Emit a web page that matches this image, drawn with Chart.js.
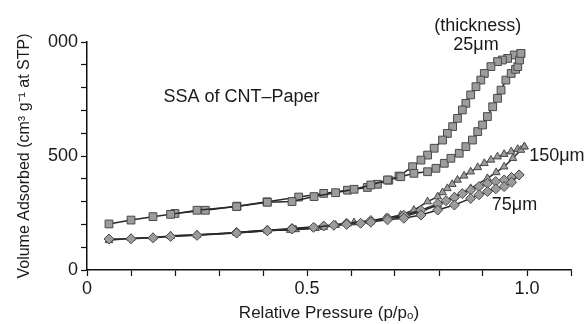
<!DOCTYPE html>
<html>
<head>
<meta charset="utf-8">
<script src="https://cdn.jsdelivr.net/npm/chart.js@4"></script>
<style>
  body { margin: 0; background: #fff; }
  #wrap { width: 588px; height: 324px; }
</style>
</head>
<body>
<div id="wrap"><canvas id="isotherm" width="588" height="324"></canvas></div>
<script>
// 25 um paper (squares)
const p25Ads = [0.05, 0.10, 0.15, 0.19, 0.25, 0.34, 0.41, 0.466, 0.516, 0.565, 0.607, 0.645, 0.683, 0.713, 0.743, 0.774, 0.793, 0.812, 0.827, 0.846, 0.861, 0.876, 0.888, 0.899, 0.91, 0.922, 0.933, 0.941, 0.952, 0.964, 0.974, 0.979, 0.983, 0.986];
const v25Ads = [202, 219, 234, 244, 262, 278, 297, 300, 322, 339, 354, 373, 395, 409, 424, 431, 446, 468, 490, 512, 541, 570, 607, 636, 673, 716, 753, 789, 833, 862, 880, 892, 921, 950];
const p25Des = [0.986, 0.971, 0.956, 0.944, 0.933, 0.918, 0.903, 0.895, 0.884, 0.872, 0.861, 0.853, 0.842, 0.831, 0.819, 0.808, 0.789, 0.774, 0.759, 0.74, 0.709, 0.686, 0.66, 0.637, 0.592, 0.538, 0.481, 0.409, 0.341, 0.269, 0.20];
const v25Des = [950, 943, 928, 921, 914, 892, 862, 833, 804, 768, 731, 702, 665, 629, 599, 570, 534, 504, 482, 453, 412, 394, 376, 362, 350, 336, 320, 299, 280, 262, 248];

// 150 um paper (triangles)
const p150Ads = [0.05, 0.10, 0.15, 0.19, 0.25, 0.34, 0.41, 0.462, 0.519, 0.565, 0.607, 0.645, 0.683, 0.72, 0.759, 0.797, 0.835, 0.872, 0.91, 0.93, 0.948, 0.968, 0.986, 0.994];
const v150Ads = [130, 139, 143, 149, 154, 164, 175, 175, 183, 197, 208, 212, 227, 234, 256, 285, 322, 358, 402, 428, 453, 490, 526, 541];
const p150Des = [0.994, 0.979, 0.964, 0.948, 0.933, 0.918, 0.903, 0.888, 0.872, 0.857, 0.842, 0.83, 0.819, 0.808, 0.797, 0.774, 0.743, 0.713, 0.679, 0.645, 0.592, 0.538, 0.474, 0.41, 0.34, 0.25, 0.19];
const v150Des = [541, 530, 519, 508, 497, 483, 468, 450, 431, 413, 395, 376, 358, 340, 322, 300, 263, 241, 227, 215, 203, 188, 178, 172, 163, 155, 150];

// 75 um paper (diamonds)
const p75Ads = [0.05, 0.10, 0.15, 0.19, 0.25, 0.34, 0.41, 0.466, 0.515, 0.561, 0.59, 0.622, 0.645, 0.683, 0.72, 0.759, 0.797, 0.835, 0.872, 0.891, 0.91, 0.929, 0.948, 0.965, 0.982];
const v75Ads = [136, 137, 141, 147, 152, 162, 172, 180, 187, 196, 200, 205, 210, 220, 227, 241, 263, 285, 314, 330, 344, 356, 366, 385, 417];
const p75Des = [0.982, 0.965, 0.948, 0.929, 0.91, 0.891, 0.872, 0.853, 0.835, 0.816, 0.797, 0.759, 0.72, 0.683, 0.645, 0.59, 0.538, 0.466, 0.41, 0.34];
const v75Des = [417, 406, 395, 388, 380, 366, 351, 335, 318, 304, 290, 262, 240, 228, 217, 205, 193, 182, 174, 165];

// annotations: [text, p, volume, align]
const notes = [
    ['SSA of CNT\u2013Paper', 0.351, 759, 'center'],
    ['(thickness)', 0.888, 1072, 'center'],
    ['25\u03bcm', 0.884, 987, 'center'],
    ['150\u03bcm', 1.005, 500, 'left'],
    ['75\u03bcm', 0.92, 285, 'left']
];

function toPoints(xs, ys) {
    return xs.map((x, i) => ({ x: x, y: ys[i] }));
}

function series(xs, ys, shape, radius) {
    return {
        data: toPoints(xs, ys),
        showLine: true,
        borderColor: '#2a2a2a',
        borderWidth: 1.5,
        pointStyle: shape,
        pointRadius: radius,
        pointBackgroundColor: '#9c9c9c',
        pointBorderColor: '#4a4a4a',
        pointBorderWidth: 1
    };
}

const notePlugin = {
    id: 'notes',
    afterDatasetsDraw(chart) {
        const ctx = chart.ctx;
        const xs = chart.scales.x;
        const ys = chart.scales.y;
        ctx.save();
        ctx.fillStyle = '#1a1a1a';
        ctx.font = '18px "Liberation Sans", Arial, sans-serif';
        ctx.textBaseline = 'middle';
        notes.forEach(n => {
            ctx.textAlign = n[3];
            ctx.fillText(n[0], xs.getPixelForValue(n[1]), ys.getPixelForValue(n[2]));
        });
        ctx.restore();
    }
};

const ctx = document.getElementById('isotherm').getContext('2d');
new Chart(ctx, {
    type: 'scatter',
    data: {
        datasets: [
            series(p75Ads, v75Ads, 'rectRot', 5),
            series(p75Des, v75Des, 'rectRot', 5),
            series(p150Ads, v150Ads, 'triangle', 4.5),
            series(p150Des, v150Des, 'triangle', 4.5),
            series(p25Ads, v25Ads, 'rect', 5.5),
            series(p25Des, v25Des, 'rect', 5.5)
        ]
    },
    options: {
        responsive: false,
        animation: false,
        layout: { padding: { top: 42, right: 17, bottom: 0, left: 0 } },
        plugins: {
            legend: { display: false },
            tooltip: { enabled: false }
        },
        scales: {
            x: {
                type: 'linear',
                min: 0,
                max: 1.1,
                afterFit: s => { s.height = 54; },
                border: { color: '#111', width: 1.5 },
                grid: { drawOnChartArea: false, tickLength: 6, tickColor: '#111', tickWidth: 1.2 },
                ticks: {
                    stepSize: 0.1,
                    autoSkip: false,
                    maxRotation: 0,
                    padding: 2,
                    color: '#1a1a1a',
                    font: { family: '"Liberation Sans", Arial, sans-serif', size: 18 },
                    callback: v => {
                        if (Math.abs(v) < 1e-6) return '0';
                        if (Math.abs(v - 0.5) < 1e-6) return '0.5';
                        if (Math.abs(v - 1) < 1e-6) return '1.0';
                        return '';
                    }
                },
                title: {
                    display: true,
                    text: 'Relative Pressure (p/p\u2092)',
                    color: '#1a1a1a',
                    padding: { top: 0, bottom: 0 },
                    font: { family: '"Liberation Sans", Arial, sans-serif', size: 17 }
                }
            },
            y: {
                min: 0,
                max: 1000,
                afterFit: s => { s.width = 87; },
                border: { color: '#111', width: 1.5 },
                grid: { drawOnChartArea: false, tickLength: 6, tickColor: '#111', tickWidth: 1.2 },
                ticks: {
                    stepSize: 100,
                    autoSkip: false,
                    padding: 3,
                    color: '#1a1a1a',
                    font: { family: '"Liberation Sans", Arial, sans-serif', size: 18 },
                    callback: v => {
                        if (v === 0) return '0';
                        if (v === 500) return '500';
                        if (v === 1000) return '000';
                        return '';
                    }
                },
                title: {
                    display: true,
                    text: 'Volume Adsorbed (cm\u00b3 g\u207b\u00b9 at STP)',
                    color: '#1a1a1a',
                    padding: { top: 15, bottom: 0 },
                    font: { family: '"Liberation Sans", Arial, sans-serif', size: 16 }
                }
            }
        }
    },
    plugins: [notePlugin]
});
</script>
</body>
</html>
